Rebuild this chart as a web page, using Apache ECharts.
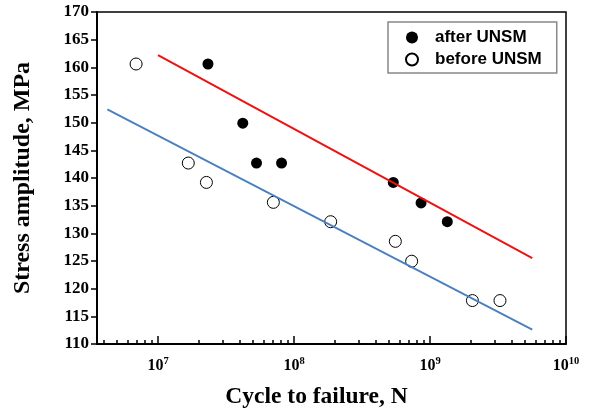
<!DOCTYPE html>
<html>
<head>
<meta charset="utf-8">
<script src="https://cdn.jsdelivr.net/npm/echarts@6/dist/echarts.min.js"></script>
<style>html,body{margin:0;padding:0;background:#fff;}#c{width:589px;height:414px;}</style>
</head>
<body>
<div id="c"></div>
<script>
// Data
var afterCycles = [2.33e7, 4.2e7, 5.3e7, 8.1e7, 5.37e8, 8.6e8, 1.34e9];
var afterStress = [160.6, 149.9, 142.7, 142.7, 139.2, 135.5, 132.1];
var beforeCycles = [6.9e6, 1.67e7, 2.27e7, 7.05e7, 1.86e8, 5.56e8, 7.33e8, 2.05e9, 3.27e9];
var beforeStress = [160.6, 142.7, 139.2, 135.6, 132.1, 128.55, 124.96, 117.85, 117.85];
var afterFitCycles = [1.0e7, 5.65e9];
var afterFitStress = [162.2, 125.5];
var beforeFitCycles = [4.24e6, 5.65e9];
var beforeFitStress = [152.4, 112.6];
var xMajorTicks = [1e7, 1e8, 1e9, 1e10];
var xMinorTicks = [4e6,5e6,6e6,7e6,8e6,9e6,2e7,3e7,4e7,5e7,6e7,7e7,8e7,9e7,2e8,3e8,4e8,5e8,6e8,7e8,8e8,9e8,2e9,3e9,4e9,5e9,6e9,7e9,8e9,9e9];
var seriesNames = ['after UNSM', 'before UNSM'];
var xTitle = 'Cycle to failure, N';
var yTitle = 'Stress amplitude, MPa';

function zip(a, b) { return a.map(function (v, i) { return [v, b[i]]; }); }

var serif = '"Liberation Serif", "Times New Roman", serif';
var sans = '"Liberation Sans", Arial, sans-serif';
var xMin = 3.56e6, xMax = 1e10;

var chart = echarts.init(document.getElementById('c'), null, {renderer: 'canvas'});
chart.setOption({
  animation: false,
  backgroundColor: '#fff',
  grid: {left: 97, top: 12, right: 23, bottom: 68, show: true, borderColor: '#000', borderWidth: 1.5, backgroundColor: 'transparent'},
  legend: {
    orient: 'vertical', left: 388, top: 22,
    data: seriesNames,
    itemWidth: 36, itemHeight: 12, itemGap: 5,
    padding: [7, 15, 5, 17],
    borderColor: '#888', borderWidth: 1.5,
    textStyle: {fontFamily: sans, fontWeight: 'bold', fontSize: 17, color: '#000', lineHeight: 16}
  },
  xAxis: [{
    type: 'log', min: xMin, max: xMax, logBase: 10,
    name: xTitle, nameLocation: 'middle', nameGap: 41,
    nameTextStyle: {fontFamily: serif, fontWeight: 'bold', fontSize: 23.5, color: '#000', padding: [0, 30, 0, 0]},
    axisLine: {show: true, lineStyle: {color: '#000', width: 2}},
    axisTick: {show: true, inside: true, length: 8, lineStyle: {color: '#000', width: 1.5}, customValues: xMajorTicks},
    axisLabel: {
      customValues: xMajorTicks, margin: 12, color: '#000',
      formatter: function (v) { return '{b|10}{s|' + Math.round(Math.log10(v)) + '}'; },
      rich: {
        b: {fontFamily: serif, fontWeight: 'bold', fontSize: 16, color: '#000'},
        s: {fontFamily: serif, fontWeight: 'bold', fontSize: 10.5, color: '#000', padding: [0, 0, 8, 0]}
      }
    },
    splitLine: {show: false}, minorTick: {show: false}
  }, {
    type: 'log', min: xMin, max: xMax, logBase: 10, position: 'bottom', gridIndex: 0,
    axisLine: {show: false},
    axisTick: {show: true, inside: true, length: 4, lineStyle: {color: '#000', width: 1.5}, customValues: xMinorTicks},
    axisLabel: {show: false},
    splitLine: {show: false}
  }],
  yAxis: {
    type: 'value', min: 110, max: 170, interval: 5,
    name: yTitle, nameLocation: 'middle', nameGap: 62,
    nameTextStyle: {fontFamily: serif, fontWeight: 'bold', fontSize: 24, color: '#000'},
    axisLine: {show: true, lineStyle: {color: '#000', width: 2}},
    axisTick: {show: true, inside: false, length: 6, lineStyle: {color: '#000', width: 1.5}},
    axisLabel: {fontFamily: serif, fontWeight: 'bold', fontSize: 17, color: '#000', margin: 8},
    splitLine: {show: false}
  },
  series: [{
    name: seriesNames[0], type: 'scatter', xAxisIndex: 0,
    data: zip(afterCycles, afterStress),
    symbol: 'circle', symbolSize: 11,
    itemStyle: {color: '#000', opacity: 1}, z: 2
  }, {
    name: seriesNames[1], type: 'scatter', xAxisIndex: 0,
    data: zip(beforeCycles, beforeStress),
    symbol: 'circle', symbolSize: 12,
    itemStyle: {color: 'rgba(255,255,255,0)', borderColor: '#000', borderWidth: 1, opacity: 1}, z: 2
  }, {
    name: 'after fit', type: 'line', xAxisIndex: 0,
    data: zip(afterFitCycles, afterFitStress), showSymbol: false, symbol: 'none',
    lineStyle: {color: '#ee1111', width: 2}, z: 3
  }, {
    name: 'before fit', type: 'line', xAxisIndex: 0,
    data: zip(beforeFitCycles, beforeFitStress), showSymbol: false, symbol: 'none',
    lineStyle: {color: '#4a7fbf', width: 1.8}, z: 3
  }]
});
</script>
</body>
</html>
